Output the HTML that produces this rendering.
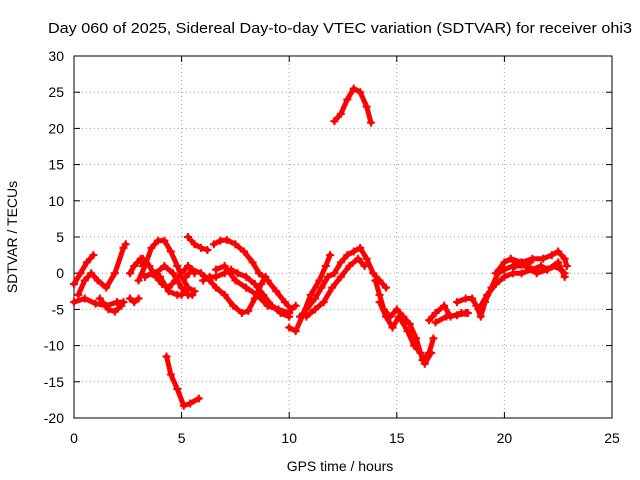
<!DOCTYPE html>
<html><head><meta charset="utf-8"><style>
body{margin:0;background:#fff}
svg{display:block;font-family:"Liberation Sans",sans-serif}
</style></head><body>
<svg id="chart" width="640" height="480" viewBox="0 0 640 480">
<rect width="640" height="480" fill="#fff"/>
<text x="48" y="33" font-size="15" textLength="584" lengthAdjust="spacingAndGlyphs">Day 060 of 2025, Sidereal Day-to-day VTEC variation (SDTVAR) for receiver ohi3</text>
<g id="grid"></g>
<g id="axes"></g>
<g id="series"></g>
<text x="340" y="471" font-size="14" text-anchor="middle">GPS time / hours</text>
<text transform="translate(17,237) rotate(-90)" font-size="14" text-anchor="middle">SDTVAR / TECUs</text>
</svg>
<script>
const xTicks=[0,5,10,15,20,25];
const yTicks=[-20,-15,-10,-5,0,5,10,15,20,25,30];
const tracks=[
[[0,-4],[0.5,-3.5],[1,-4.2],[1.5,-4.5],[2,-4],[2.3,-4]],
[[0,-1.5],[0.3,0],[0.6,1.5],[0.9,2.5]],
[[0.2,-3],[0.5,-1],[0.8,0],[1.1,-1],[1.5,-2],[1.9,0],[2.3,3.5],[2.4,4]],
[[1.2,-3.5],[1.6,-5],[1.9,-5.3],[2.2,-4.5]],
[[2.6,-3.5],[2.8,-4],[3.0,-3.5]],
[[2.6,0],[2.8,1],[3.1,2],[3.2,1]],
[[3,-1],[3.3,1],[3.6,3.5],[3.9,4.5],[4.2,4.5],[4.5,3],[4.8,1],[5,-0.5],[5.3,-2],[5.6,-2.5]],
[[3.2,2],[3.5,1],[3.8,-0.5],[4.1,-1.5],[4.4,-2],[4.7,-1],[5,0],[5.3,1],[5.6,0]],
[[3.8,0],[4.2,1],[4.6,0],[5,-2],[5.3,-3],[5.5,-3]],
[[3.3,-0.5],[3.6,0],[4,-0.5],[4.4,-2.5],[4.8,-3],[5.0,-3]],
[[4.3,-11.5],[4.5,-14],[4.8,-16],[5.1,-18.3],[5.4,-18],[5.8,-17.3]],
[[5.2,-0.5],[5.5,0.5],[5.9,0],[6.3,-1],[6.6,-2],[7,-3],[7.4,-4.5],[7.8,-5.5],[8.1,-5.2],[8.4,-3.5],[8.7,-1.5],[8.9,-0.5]],
[[5.3,5],[5.6,4],[5.9,3.5],[6.2,3.2]],
[[6.5,4],[6.8,4.5],[7.1,4.6],[7.5,4],[7.9,3],[8.3,1.5],[8.6,0],[9,-1],[9.4,-2.5],[9.8,-4],[10.1,-5],[10.3,-4.5]],
[[6,-1],[6.3,-0.5],[6.6,-0.5],[7,0],[7.3,0.5],[7.6,0],[8,-0.5],[8.4,-1.5],[8.8,-3],[9.2,-4.5],[9.6,-5.5],[10,-6]],
[[6.6,0.5],[7,1],[7.5,-1],[8,-2],[8.5,-3],[9,-4.5],[9.5,-5],[10,-5.5]],
[[10,-7.5],[10.3,-8],[10.6,-6],[11,-3],[11.4,-1],[11.7,1],[11.9,2.5]],
[[10.5,-6],[10.8,-5],[11.2,-3.5],[11.5,-2],[11.8,-0.5],[12.1,0],[12.4,1.5],[12.7,2.5],[13,3],[13.3,3.5],[13.6,2],[13.9,0],[14.2,-1],[14.5,-2]],
[[10.8,-6],[11.2,-5],[11.6,-4],[12,-2],[12.4,-0.5],[12.8,1],[13.2,2],[13.5,1]],
[[12.1,21],[12.4,22],[12.7,24],[13,25.5],[13.3,25],[13.6,23],[13.8,20.8]],
[[14,-1],[14.2,-3],[14.4,-5],[14.7,-6],[15,-5],[15.3,-6],[15.6,-7],[15.9,-9],[16.2,-12],[16.5,-11],[16.7,-9]],
[[14.2,-4],[14.5,-6],[14.8,-7.5],[15.1,-6],[15.5,-8],[15.8,-10],[16.1,-11],[16.3,-12.5],[16.6,-11]],
[[16.5,-6.5],[16.8,-5.5],[17.2,-4.5],[17.5,-6],[18,-5.5],[18.2,-5.5]],
[[16.8,-6.8],[17.3,-6],[17.8,-5.8],[18.3,-5.5]],
[[17.8,-4],[18.2,-3.5],[18.5,-3.5],[18.7,-4.5],[18.9,-6],[19.1,-4],[19.4,-2],[19.7,0],[20,0.5],[20.4,1],[20.8,1.5],[21.2,1.5]],
[[18.8,-5],[19.2,-3],[19.6,-1.5],[20,-0.5],[20.4,0],[20.8,0],[21.3,0.5],[21.7,1],[22,0.5],[22.4,1],[22.8,0]],
[[19.6,0],[20,1.5],[20.3,2],[20.8,1.5],[21.3,2],[21.8,2],[22.2,2.5],[22.5,3],[22.8,2],[22.9,1]],
[[20.5,1],[21,1],[21.5,0],[22,0.5],[22.5,1.5],[22.8,-0.5]]
];
const X0=74,X1=612,Y0=418,Y1=56;
const sx=v=>X0+(v-0)/(25-0)*(X1-X0);
const sy=v=>Y0-(v+20)/(50)*(Y0-Y1);
const NS="http://www.w3.org/2000/svg";
function mk(t,a,p){const e=document.createElementNS(NS,t);for(const k in a)e.setAttribute(k,a[k]);p.appendChild(e);return e;}
const grid=document.getElementById('grid'),axes=document.getElementById('axes'),ser=document.getElementById('series');
xTicks.forEach(t=>{const x=sx(t);
 if(t>0&&t<25){const l=mk('line',{x1:x,x2:x,y1:Y1,y2:Y0,stroke:'#a0a0a0','stroke-dasharray':'1,3'},grid);}
 const tl=mk('text',{x:x,y:Y0+25,'font-size':14,'text-anchor':'middle'},axes);tl.textContent=t;
 
 mk('line',{x1:x,x2:x,y1:Y0,y2:Y0-6,stroke:'#000'},axes);mk('line',{x1:x,x2:x,y1:Y1,y2:Y1+6,stroke:'#000'},axes);});
yTicks.forEach(t=>{const y=sy(t);
 if(t>-20&&t<30){const l=mk('line',{x1:X0,x2:X1,y1:y,y2:y,stroke:'#a0a0a0','stroke-dasharray':'1,3'},grid);}
 const tl=mk('text',{x:X0-10,y:y+5,'font-size':14,'text-anchor':'end'},axes);tl.textContent=t;
 
 mk('line',{x1:X0,x2:X0+6,y1:y,y2:y,stroke:'#000'},axes);mk('line',{x1:X1,x2:X1-6,y1:y,y2:y,stroke:'#000'},axes);});
const fr=mk('rect',{x:X0,y:Y1,width:X1-X0,height:Y0-Y1,fill:'none',stroke:'#000'},axes);

tracks.forEach(tr=>{
 const pl=mk('polyline',{points:tr.map(p=>sx(p[0])+','+sy(p[1])).join(' '),fill:'none',stroke:'#ff0000','stroke-width':5,'stroke-linejoin':'round','stroke-linecap':'round'},ser);
 
 
 tr.forEach(p=>{const x=sx(p[0]),y=sy(p[1]);
  mk('path',{d:`M${x-4},${y}H${x+4}M${x},${y-4}V${y+4}`,stroke:'#ff0000','stroke-width':2},ser);});
});
</script>
</body></html>
